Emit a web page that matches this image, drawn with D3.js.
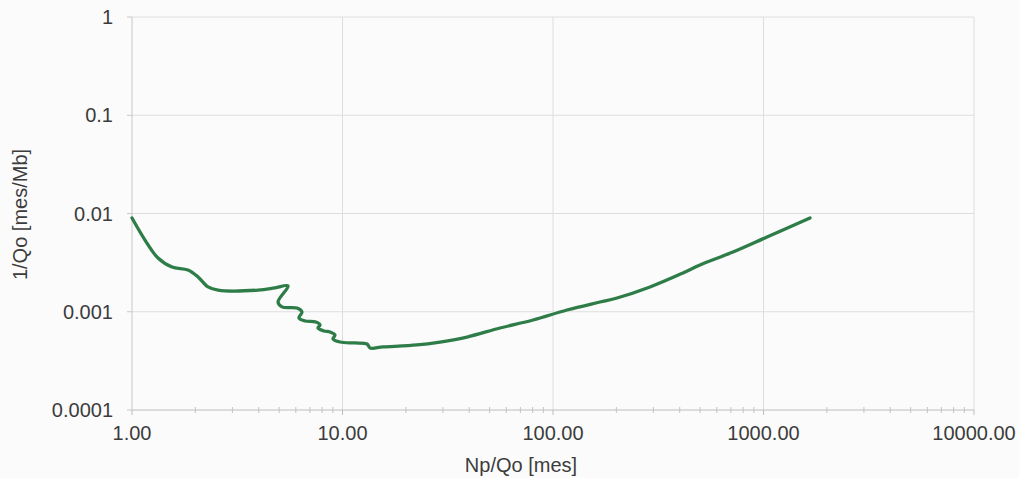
<!DOCTYPE html>
<html>
<head>
<meta charset="utf-8">
<script src="https://cdn.jsdelivr.net/npm/d3@7"></script>
<style>
  body { margin: 0; background: #fbfbfb; }
  text { font-family: "Liberation Sans", Arial, sans-serif; fill: #3c3c3c; }
</style>
</head>
<body>
<script>
// Np/Qo [mes]
const npqo = [1.00, 1.153, 1.329, 1.549, 1.845, 2.059, 2.296, 2.563, 3.97, 4.78, 5.51,
  4.94, 5.16, 6.08, 6.42, 6.21, 6.64, 7.48, 7.82, 7.65, 8.17, 8.72, 9.21, 9.01, 9.73,
  11.47, 13.08, 13.51, 15.57, 22.59, 29.05, 39.03, 56.0, 80.4, 116.5, 167.2, 201.4,
  289, 414.6, 499.3, 716.2, 1039, 1663]
// 1/Qo [mes/Mb]
const invQo = [0.0090, 0.00537, 0.00352, 0.00285, 0.00266, 0.00226, 0.00179, 0.00166, 0.00166, 0.00175, 0.00183,
  0.00126, 0.00112, 0.00109, 0.000994, 0.000864, 0.000805, 0.000787, 0.000733, 0.000683, 0.000637, 0.000622, 0.000580, 0.000528, 0.000492,
  0.000481, 0.000470, 0.000428, 0.000438, 0.000459, 0.000492, 0.000553, 0.000683, 0.000824, 0.001042, 0.001257, 0.00138,
  0.001786, 0.00248, 0.00299, 0.004055, 0.005765, 0.0090]

const xTicks = [1, 10, 100, 1000, 10000]
const yTicks = [0.0001, 0.001, 0.01, 0.1, 1]
const yLabels = ["0.0001", "0.001", "0.01", "0.1", "1"]

const width = 1019, height = 478
const margin = { top: 17, left: 132, right: 45, bottom: 68 }

const svg = d3.select("body").append("svg")
    .attr("width", width).attr("height", height)

const x = d3.scaleLog().domain([1, 10000]).range([margin.left, width - margin.right])
const y = d3.scaleLog().domain([0.0001, 1]).range([height - margin.bottom, margin.top])

// minor tick positions 2..9 per decade
const minor = []
for (let d = 1; d < 10000; d *= 10) for (let k = 2; k < 10; k++) minor.push(d * k)

// grid
svg.append("g").selectAll("line").data(yTicks.slice(1))
   .join("line")
   .attr("x1", margin.left).attr("x2", width - margin.right)
   .attr("y1", d => y(d)).attr("y2", d => y(d))
   .attr("stroke", "#dedede").attr("stroke-width", 1)

svg.append("g").selectAll("line").data(xTicks.slice(1))
   .join("line")
   .attr("x1", d => x(d)).attr("x2", d => x(d))
   .attr("y1", margin.top).attr("y2", y(0.0001))
   .attr("stroke", "#dedede").attr("stroke-width", 1)

// axes lines
svg.append("line").attr("x1", margin.left).attr("x2", margin.left)
   .attr("y1", margin.top).attr("y2", y(0.0001)).attr("stroke", "#c8c8c8")
svg.append("line").attr("x1", margin.left).attr("x2", width - margin.right)
   .attr("y1", y(0.0001)).attr("y2", y(0.0001)).attr("stroke", "#bdbdbd")

svg.append("g").selectAll("line").data(minor)
   .join("line")
   .attr("x1", d => x(d)).attr("x2", d => x(d))
   .attr("y1", y(0.0001) - 3).attr("y2", y(0.0001) + 3)
   .attr("stroke", "#c4c4c4")

svg.append("g").selectAll("line").data(xTicks)
   .join("line")
   .attr("x1", d => x(d)).attr("x2", d => x(d))
   .attr("y1", y(0.0001)).attr("y2", y(0.0001) + 5)
   .attr("stroke", "#bdbdbd")

svg.append("g").selectAll("line").data(yTicks)
   .join("line")
   .attr("x1", margin.left - 5).attr("x2", margin.left)
   .attr("y1", d => y(d)).attr("y2", d => y(d))
   .attr("stroke", "#c8c8c8")

// tick labels
svg.append("g").selectAll("text").data(yTicks)
   .join("text")
   .attr("x", margin.left - 19).attr("y", d => y(d) + 7)
   .attr("text-anchor", "end").attr("font-size", 20)
   .text((d, i) => yLabels[i])

svg.append("g").selectAll("text").data(xTicks)
   .join("text")
   .attr("x", d => x(d)).attr("y", y(0.0001) + 30)
   .attr("text-anchor", "middle").attr("font-size", 20)
   .text(d => d3.format(".2f")(d))

// axis titles
svg.append("text").attr("x", 521).attr("y", 472)
   .attr("text-anchor", "middle").attr("font-size", 20)
   .text("Np/Qo [mes]")

svg.append("text").attr("transform", `translate(27,${(y(0.0001) + y(1)) / 2 + 1}) rotate(-90)`)
   .attr("text-anchor", "middle").attr("font-size", 20)
   .text("1/Qo [mes/Mb]")

// curve
const pts = npqo.map((d, i) => [d, invQo[i]])
const line = d3.line().x(d => x(d[0])).y(d => y(d[1])).curve(d3.curveCatmullRom.alpha(0.5))

svg.append("path").datum(pts)
   .attr("d", line)
   .attr("fill", "none").attr("stroke", "#2e7d48")
   .attr("stroke-width", 3.3).attr("stroke-linejoin", "round").attr("stroke-linecap", "round")
</script>
</body>
</html>
